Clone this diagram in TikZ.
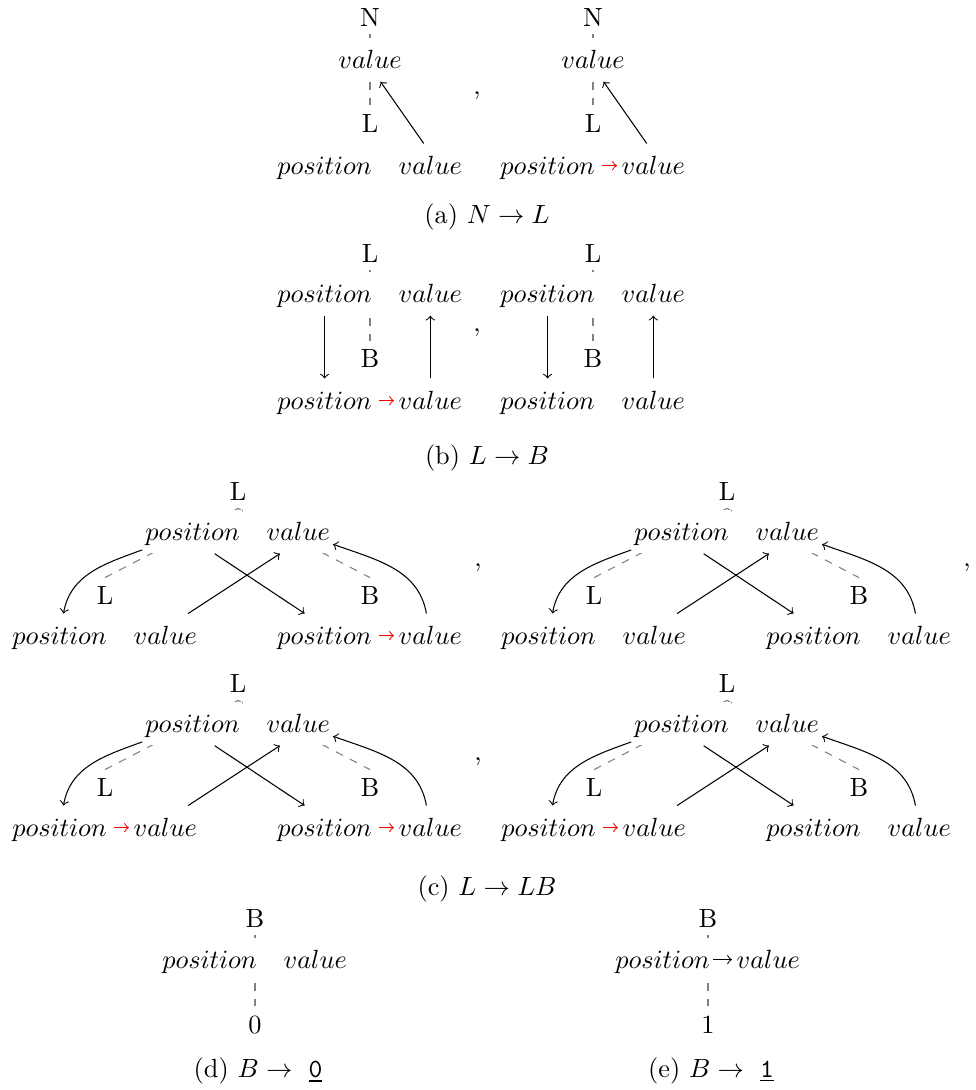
\documentclass[tikz,border=0pt]{standalone}

\begin{document}
\begin{tikzpicture}[x=0.38pt, y=-0.38pt, >=to,
  lbl/.style={inner sep=3pt, anchor=base},
  posn/.style={fill=white, inner xsep=1pt, inner ysep=3pt, text height=8.4pt, text depth=2pt, anchor=base east},
  valn/.style={fill=white, inner xsep=1pt, inner ysep=3pt, text height=8.4pt, text depth=2pt, anchor=base west},
  treeline/.style={gray, dashed},
  ptr/.style={->},
  link/.style={->, shorten >=0.6pt},
  redlink/.style={link, red, shorten <=1.5pt}]

  \useasboundingbox (0,0) rectangle (976,1090);

  % (a) N -> L
  \foreach \i/\ax in {1/370, 2/593} {
    \node[lbl] (aN\i) at (\ax,26) {N};
    \node[lbl] (aL\i) at (\ax,132) {L};
    \draw[treeline] (aN\i.south) -- (aL\i.north);
    \node[valn, anchor=base] (aNv\i) at (\ax,68) {$value$};
    \node[posn] (aLp\i) at (\ax+5,174) {$position$};
    \node[valn] (aLv\i) at (\ax+25.5,174) {$value$};
    % value pointer up to N
    \draw[ptr] ([xshift=-2.5pt]aLv\i.north) -- ([xshift=4pt]aNv\i.south);
  }
  \draw[redlink] (aLp2) -- (aLv2);
  \node[anchor=base] (sepA) at (477,94) {,};
  \node[anchor=base] (capA) at (487,223) {(a) $N \to L$};

  % (b) L -> B
  \foreach \i/\bx in {1/370, 2/593} {
    \node[lbl] (bL\i) at (\bx,262) {L};
    \node[lbl] (bB\i) at (\bx,367) {B};
    \draw[treeline] (bL\i.south) -- (bB\i.north);
    \node[posn] (bLp\i) at (\bx+5,302) {$position$};
    \node[valn] (bLv\i) at (\bx+25.5,302) {$value$};
    \node[posn] (bBp\i) at (\bx+5,409) {$position$};
    \node[valn] (bBv\i) at (\bx+25.5,409) {$value$};
    \draw[ptr] (bLp\i) -- (bBp\i);
    \draw[ptr] (bBv\i) -- (bLv\i);
  }
  \draw[redlink] (bBp1) -- (bBv1);
  \node[anchor=base] (sepB) at (477,331) {,};
  \node[anchor=base] (capB) at (487,464) {(b) $L \to B$};

  % (c) L -> LB, four cases
  \foreach \k/\cx/\cy in {1/238/500, 2/727/500, 3/238/692, 4/727/692} {
    \node[lbl] (cR\k) at (\cx,\cy) {L};
    \node[lbl] (cL\k) at (\cx-133,\cy+104) {L};
    \node[lbl] (cB\k) at (\cx+132,\cy+104) {B};
    % tree edges
    \draw[treeline] (cR\k.south) -- (cL\k.north);
    \draw[treeline] (cR\k.south) -- (cB\k.north);
    % root and leaves
    \node[posn] (cRp\k) at (\cx+5,\cy+40) {$position$};
    \node[valn] (cRv\k) at (\cx+25.5,\cy+40) {$value$};
    \fill[white] (cRp\k.south east) rectangle (cRv\k.north west);
    \node[posn] (cLp\k) at (\cx-128,\cy+144) {$position$};
    \node[valn] (cLv\k) at (\cx-107.5,\cy+144) {$value$};
    \node[posn] (cBp\k) at (\cx+137,\cy+144) {$position$};
    \node[valn] (cBv\k) at (\cx+157.5,\cy+144) {$value$};
    % pointers
    \draw[ptr] (cRp\k) to[out=200, in=80] (cLp\k);
    \draw[ptr] ([xshift=8.4pt]cRp\k.south) -- ([xshift=-7.6pt]cBp\k.north);
    \draw[ptr] ([xshift=8.7pt]cLv\k.north) -- ([xshift=-7pt]cRv\k.south);
    \draw[ptr] (cBv\k) to[out=100, in=-20] (cRv\k);
  }
  \draw[redlink] (cBp1) -- (cBv1);
  \draw[redlink] (cLp3) -- (cLv3);
  \draw[redlink] (cBp3) -- (cBv3);
  \draw[redlink] (cLp4) -- (cLv4);
  \node[anchor=base] (sepC1) at (478,566) {,};
  \node[anchor=base] (sepC2) at (967,566) {,};
  \node[anchor=base] (sepC3) at (478,760) {,};
  \node[anchor=base] (capC) at (487,895) {(c) $L \to LB$};

  % (d) B -> 0
  \node[lbl] (dB) at (255,927) {B};
  \node[lbl] (dZ) at (255,1033) {0};
  \draw[treeline] (dB.south) -- (dZ.north);
  \node[posn] (dBp) at (260,968) {$position$};
  \node[valn] (dBv) at (280.5,968) {$value$};
  \node[anchor=base] (capD) at (258,1077) {(d) $B \to\ \underline{\texttt{0}}$};

  % (e) B -> 1
  \node[lbl] (eB) at (708,927) {B};
  \node[lbl] (eO) at (708,1033) {1};
  \draw[treeline] (eB.south) -- (eO.north);
  \node[posn] (eBp) at (713,968) {$position$};
  \node[valn] (eBv) at (733.5,968) {$value$};
  \draw[link] (eBp) -- (eBv);
  \node[anchor=base] (capE) at (711,1077) {(e) $B \to\ \underline{\texttt{1}}$};

\end{tikzpicture}
\end{document}
